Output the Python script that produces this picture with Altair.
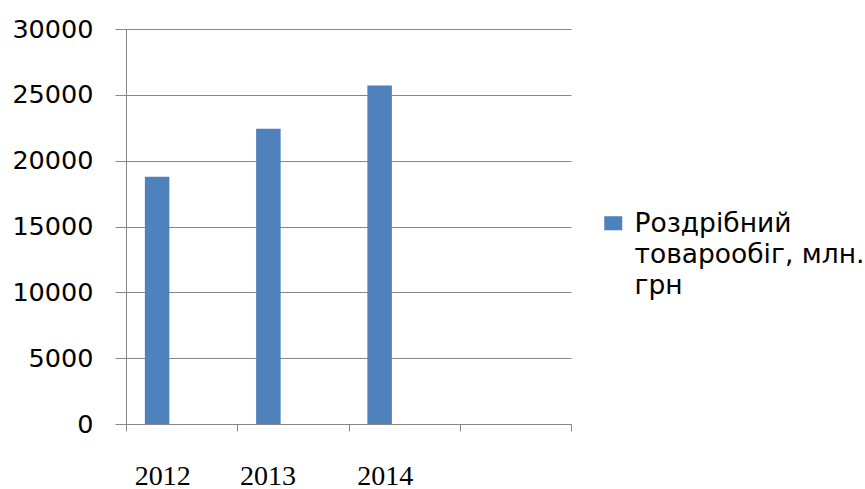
import json
import altair as alt
import pandas as pd

# Retail turnover by year (million UAH); the fourth category slot is left empty
years = ["2012", "2013", "2014"]
turnover = [18770, 22430, 25710]
slots = years + [""]

legend_lines = ["Роздрібний", "товарообіг, млн.", "грн"]
series_name = " ".join(legend_lines)

df = pd.DataFrame({"year": years, "value": turnover, "series": series_name})

bar_color = "#4F81BD"
grid_color = "#878787"

chart = (
    alt.Chart(df)
    .mark_bar(size=24.5, xOffset=-24.5, color=bar_color)
    .encode(
        x=alt.X(
            "year:N",
            title=None,
            scale=alt.Scale(domain=slots, paddingInner=0, paddingOuter=0),
            axis=alt.Axis(
                labelAngle=0,
                labelFont="Liberation Serif",
                labelFontSize=28,
                labelColor="black",
                labelPadding=31,
                labelOffset={
                    "condition": {"test": "datum.label == '2013'", "value": -25.5},
                    "value": -19.5,
                },
                tickBand="extent",
                tickSize=7,
                tickColor=grid_color,
                domainColor=grid_color,
                grid=False,
            ),
        ),
        y=alt.Y(
            "value:Q",
            title=None,
            scale=alt.Scale(domain=[0, 30000], nice=False),
            axis=alt.Axis(
                values=[0, 5000, 10000, 15000, 20000, 25000, 30000],
                format="d",
                labelFont="DejaVu Sans",
                labelFontSize=25.5,
                labelColor="black",
                labelPadding=22,
                tickSize=11,
                tickColor=grid_color,
                domainColor=grid_color,
                gridColor=grid_color,
            ),
        ),
        color=alt.Color(
            "series:N",
            scale=alt.Scale(range=[bar_color]),
            legend=alt.Legend(
                title=None,
                orient="none",
                legendX=474,
                legendY=190,
                padding=0,
                symbolType="M-1,-1.78H1V-0.22H-1Z",
                symbolSize=324,
                symbolStrokeWidth=0,
                symbolOpacity=1,
                labelFont="DejaVu Sans",
                labelFontSize=26.5,
                labelColor="black",
                labelBaseline="alphabetic",
                labelOffset=8,
                labelLimit=400,
                labelExpr=json.dumps(legend_lines, ensure_ascii=False),
            ),
        ),
    )
    .properties(
        width=445,
        height=395,
        autosize=alt.AutoSizeParams(type="none"),
        padding={"left": 126, "top": 29, "right": 294, "bottom": 65},
    )
    .configure(style={"guide-label": {"lineHeight": 31}})
    .configure_view(stroke=None)
)

chart.save("out.html", embed_options={"renderer": "svg", "actions": False})
